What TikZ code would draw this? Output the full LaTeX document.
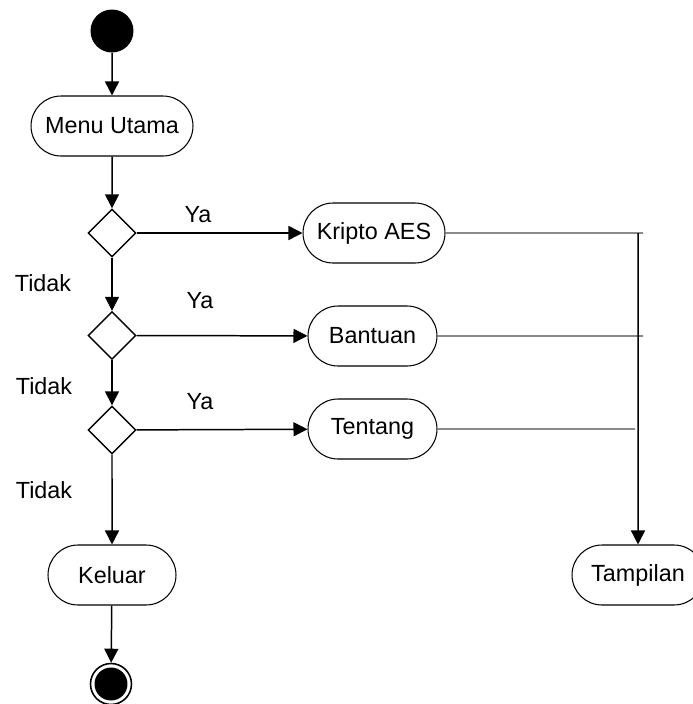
\documentclass[tikz,border=0pt]{standalone}
\usepackage{fontspec}
\setmainfont{Liberation Sans}
\usepackage{tikz}
\usetikzlibrary{shapes.geometric, shapes.misc, arrows.meta, positioning}

\begin{document}
\begin{tikzpicture}[
    x=0.02cm, y=-0.02cm,
    font=\fontsize{13.3pt}{16pt}\selectfont,
    activity/.style={draw, line width=0.6pt, rounded rectangle, minimum height=1.2cm, inner sep=0pt},
    decision/.style={draw, line width=0.8pt, diamond, aspect=1, minimum width=0.96cm, minimum height=0.96cm, inner sep=0pt},
    startdot/.style={circle, fill=black, minimum size=0.86cm, inner sep=0pt},
    endring/.style={circle, draw, line width=0.9pt, minimum size=0.82cm, inner sep=0pt},
    enddot/.style={circle, fill=black, minimum size=0.66cm, inner sep=0pt},
    arrow/.style={-{Triangle[length=0.28cm, width=0.28cm]}, line width=0.85pt},
    link/.style={line width=0.6pt, black!70}
]
    \useasboundingbox (0,0) rectangle (693,704);

    % Start and end
    \node[startdot] (start) at (112, 31) {};
    \node[endring] (stop) at (111, 684) {};
    \node[enddot] (stopin) at (111, 684) {};

    % Activities
    \node[activity, minimum width=3.24cm] (menu) at (112, 126) {Menu Utama};
    \node[activity, minimum width=2.84cm] (kripto) at (374, 233) {Kripto AES};
    \node[activity, minimum width=2.58cm] (bantuan) at (372.5, 336) {Bantuan};
    \node[activity, minimum width=2.58cm] (tentang) at (372.5, 429) {Tentang};
    \node[activity, minimum width=2.56cm] (keluar) at (112, 575) {Keluar};
    \node[activity, minimum width=2.64cm] (tampilan) at (638, 575) {Tampilan};

    % Decisions
    \node[decision] (pilih1) at (112, 233) {};
    \node[decision] (pilih2) at (112, 335.5) {};
    \node[decision] (pilih3) at (112, 430) {};

    % Labels
    \node (ya1) at (198, 215) {Ya};
    \node (ya2) at (200, 301) {Ya};
    \node (ya3) at (200, 402) {Ya};
    \node (tidak1) at (43, 283) {Tidak};
    \node (tidak2) at (44, 386) {Tidak};
    \node (tidak3) at (44, 490) {Tidak};

    % Main flow
    \draw[arrow] (start) -- (menu);
    \draw[arrow] (menu) -- (pilih1);
    \draw[arrow] (pilih1) -- (pilih2);
    \draw[arrow] (pilih2) -- (pilih3);
    \draw[arrow] (pilih3) -- (keluar);
    \draw[arrow] (keluar) -- (stop);

    % Ya branches
    \draw[arrow] (pilih1) -- (kripto);
    \draw[arrow] (pilih2) -- (bantuan);
    \draw[arrow] (pilih3) -- (tentang);

    % Join to Tampilan
    \coordinate (join1) at (643, 233);
    \coordinate (join2) at (643, 336);
    \coordinate (join3) at (635, 429);
    \coordinate (top) at (638, 233);
    \draw[link] (kripto) -- (join1);
    \draw[link] (bantuan) -- (join2);
    \draw[link] (tentang) -- (join3);
    \draw[arrow] (top) -- (tampilan);

\end{tikzpicture}
\end{document}
